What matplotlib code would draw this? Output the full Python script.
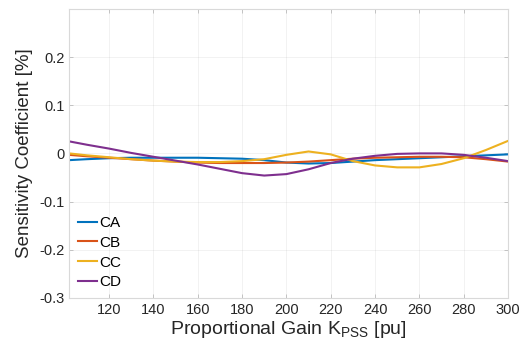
import matplotlib
matplotlib.use("Agg")
import matplotlib.pyplot as plt

plt.rcParams["font.family"] = ["Liberation Sans", "DejaVu Sans"]
plt.rcParams["mathtext.fontset"] = "custom"
plt.rcParams["mathtext.rm"] = "Liberation Sans"

gain = [102, 110, 120, 130, 140, 150, 160, 170, 180, 190, 200,
        210, 220, 230, 240, 250, 260, 270, 280, 290, 300]

ca = [-0.014, -0.012, -0.010, -0.009, -0.009, -0.009, -0.009, -0.010, -0.011, -0.014, -0.019,
      -0.021, -0.020, -0.017, -0.014, -0.012, -0.010, -0.008, -0.006, -0.004, -0.002]
cb = [-0.003, -0.006, -0.009, -0.012, -0.015, -0.017, -0.019, -0.020, -0.020, -0.020, -0.019,
      -0.017, -0.014, -0.011, -0.009, -0.008, -0.007, -0.007, -0.008, -0.012, -0.017]
cc = [0.000, -0.004, -0.008, -0.012, -0.015, -0.017, -0.018, -0.018, -0.016, -0.012, -0.003,
      0.004, -0.002, -0.016, -0.025, -0.029, -0.029, -0.022, -0.010, 0.007, 0.026]
cd = [0.025, 0.018, 0.010, 0.001, -0.007, -0.015, -0.023, -0.032, -0.041, -0.046, -0.043,
      -0.033, -0.020, -0.011, -0.005, -0.001, 0.000, 0.000, -0.003, -0.009, -0.016]

series = {"CA": ca, "CB": cb, "CC": cc, "CD": cd}
colors = {"CA": "#0072bd", "CB": "#d95319", "CC": "#edb120", "CD": "#7e2f8e"}

x_ticks = [120, 140, 160, 180, 200, 220, 240, 260, 280, 300]
y_ticks = [-0.3, -0.2, -0.1, 0, 0.1, 0.2]
y_labels = ["-0.3", "-0.2", "-0.1", "0", "0.1", "0.2"]

fig = plt.figure(figsize=(5.2, 3.58), dpi=100)
ax = fig.add_axes([0.133, 0.168, 0.844, 0.807])

for name, vals in series.items():
    ax.plot(gain, vals, color=colors[name], lw=1.5, label=name)

ax.set_xlim(102, 300)
ax.set_ylim(-0.3, 0.3)
ax.set_xticks(x_ticks)
ax.set_yticks(y_ticks)
ax.set_yticklabels(y_labels)

ax.grid(color="#262626", alpha=0.07, lw=0.6)
for sp in ax.spines.values():
    sp.set_color("#d9d9d9")
    sp.set_linewidth(0.8)
ax.tick_params(direction="in", length=3, width=0.6, color="#bbbbbb",
               labelsize=10.5, labelcolor="#262626", top=True, right=True)

ax.set_xlabel("Proportional Gain K$_{\\mathregular{PSS}}$ [pu]", fontsize=14, color="#262626", labelpad=2)
ax.set_ylabel("Sensitivity Coefficient [%]", fontsize=13.5, color="#262626", labelpad=4)

ax.legend(loc="lower left", bbox_to_anchor=(0.0, 0.0), frameon=False, fontsize=11,
          handlelength=1.3, handletextpad=0.1, labelspacing=0.38, borderaxespad=0.15)

fig.savefig("out.png", dpi=100)
